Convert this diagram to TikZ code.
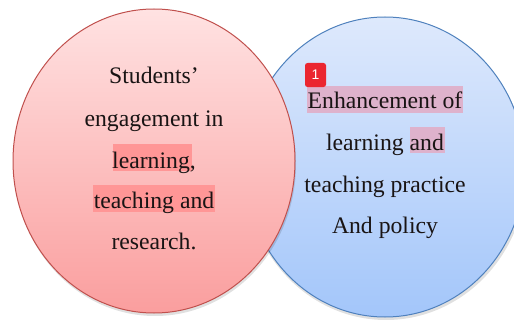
\documentclass[tikz,border=0pt]{standalone}
\usepackage{fontspec}
\setmainfont{Liberation Serif}
\newfontfamily\badgefont{Liberation Sans}
\definecolor{redtop}{RGB}{255,226,226}
\definecolor{redbot}{RGB}{250,158,158}
\definecolor{redline}{RGB}{192,80,77}
\definecolor{bluetop}{RGB}{222,233,252}
\definecolor{bluebot}{RGB}{163,198,250}
\definecolor{blueline}{RGB}{79,129,189}
\definecolor{hlred}{RGB}{255,150,150}
\definecolor{hlpurple}{RGB}{222,178,204}
\definecolor{badge}{RGB}{235,38,48}
\definecolor{txt}{RGB}{25,20,20}
\begin{document}
\begin{tikzpicture}[x=1pt,y=-1pt,
  line/.style={anchor=base,font=\fontsize{23.7}{28}\selectfont,text=txt,inner sep=0pt},
  hl/.style={draw=none}]
\useasboundingbox (0,0) rectangle (514,321);
% blue circle (behind)
\fill[black,opacity=0.12] (386,170) ellipse [x radius=141pt, y radius=150pt];
\shade[top color=bluetop,bottom color=bluebot] (385,167) ellipse [x radius=140pt, y radius=150pt];
\draw[blueline,line width=1pt] (385,167) ellipse [x radius=140pt, y radius=150pt];
% red circle (front)
\fill[black,opacity=0.12] (155,164) ellipse [x radius=141pt, y radius=152pt];
\shade[top color=redtop,bottom color=redbot] (154,161) ellipse [x radius=141pt, y radius=152pt];
\draw[redline,line width=1pt] (154,161) ellipse [x radius=141pt, y radius=152pt];
% highlights
\fill[hlred] (113,144) rectangle (192,171);
\fill[hlred] (93,185) rectangle (215,212);
\fill[hlpurple] (307,86) rectangle (463,113);
\fill[hlpurple] (410,127) rectangle (445,153);
% red text
\node[line] (r1) at (154,83) {Students’};
\node[line] (r2) at (154,126) {engagement in};
\node[line] (r3) at (154,168) {learning,};
\node[line] (r4) at (154,208) {teaching and};
\node[line] (r5) at (154,249) {research.};
% blue text
\node[line] (b1) at (385,108) {Enhancement of};
\node[line] (b2) at (385,150) {learning and};
\node[line] (b3) at (385,192) {teaching practice};
\node[line] (b4) at (385,233) {And policy};
% badge
\node[fill=badge,rounded corners=2.5pt,minimum width=21pt,minimum height=24pt,inner sep=0pt,
  text=white,font=\badgefont\fontsize{14}{14}\selectfont] (badge) at (315.5,75) {1};
\end{tikzpicture}
\end{document}
